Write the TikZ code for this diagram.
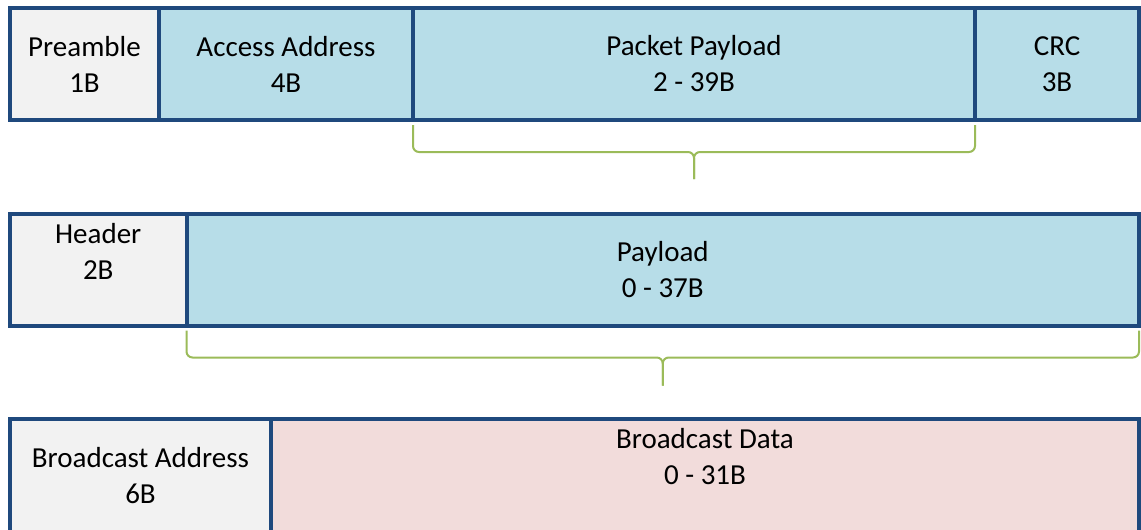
\documentclass[tikz,border=0pt]{standalone}
\usepackage{fontspec}
\setmainfont{Carlito}
\usepackage{tikz}
\usetikzlibrary{positioning}
\definecolor{framecol}{HTML}{1F497D}
\definecolor{grayfill}{HTML}{F2F2F2}
\definecolor{bluefill}{HTML}{B7DDE8}
\definecolor{pinkfill}{HTML}{F2DCDB}
\definecolor{bracecol}{HTML}{9BBB59}

\begin{document}
\begin{tikzpicture}[x=1pt,y=-1pt]
\tikzset{font=\fontsize{29}{36}\selectfont}
\tikzset{field/.style={draw=framecol, line width=4pt, inner sep=0pt, outer sep=0pt, align=center, minimum height=112pt}}
\tikzset{lbl/.style={align=center, inner sep=0pt}}
\tikzset{brace/.style={draw=bracecol, line width=2pt, rounded corners=6pt}}
\useasboundingbox (0,0) rectangle (1141,530);

% link layer packet
\node[field, fill=grayfill, minimum width=149pt] (pre) at (84.5,64) {Preamble\\1B};
\node[field, fill=bluefill, minimum width=254pt] (acc) at (286,64) {Access Address\\4B};
\node[field, fill=bluefill, minimum width=562pt] (ppl) at (694,64) {Packet Payload\\2 - 39B};
\node[field, fill=bluefill, minimum width=164pt] (crc) at (1057,64) {CRC\\3B};

% advertising channel pdu
\node[field, fill=grayfill, minimum width=176.5pt] (hdr) at (98.25,269.5) {};
\node[field, fill=bluefill, minimum width=952.5pt] (pld) at (662.75,269.5) {Payload\\0 - 37B};
\node[lbl, below=10pt of hdr.north] (hdrtxt) {Header\\2B};

% broadcast payload
\node[field, fill=grayfill, minimum width=261pt, minimum height=114pt] (badr) at (140.5,476) {Broadcast Address\\6B};
\node[field, fill=pinkfill, minimum width=868pt, minimum height=114pt] (bdat) at (705,476) {};
\node[lbl, below=9pt of bdat.north] (bdattxt) {Broadcast Data\\0 - 31B};

% braces
\coordinate (b1l) at ([yshift=-5pt]ppl.south west);
\coordinate (b1r) at ([yshift=-5pt]ppl.south east);
\coordinate (b1m) at ([yshift=-32pt]ppl.south);
\coordinate (b1t) at ([yshift=-59pt]ppl.south);
\draw[brace] (b1l) |- (b1m) -- (b1t);
\draw[brace] (b1r) |- (b1m) -- (b1t);

\coordinate (b2l) at ([yshift=-5pt]pld.south west);
\coordinate (b2r) at ([yshift=-5pt]pld.south east);
\coordinate (b2m) at ([yshift=-32pt]pld.south);
\coordinate (b2t) at ([yshift=-60pt]pld.south);
\draw[brace] (b2l) |- (b2m) -- (b2t);
\draw[brace] (b2r) |- (b2m) -- (b2t);

\end{tikzpicture}
\end{document}
